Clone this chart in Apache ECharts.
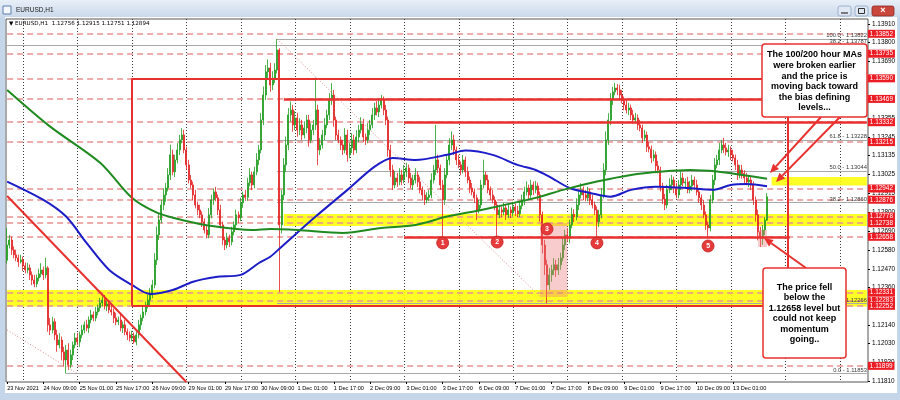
<!DOCTYPE html>
<html><head><meta charset="utf-8">
<script src="https://cdn.jsdelivr.net/npm/echarts@6/dist/echarts.min.js"></script>
<style>html,body{margin:0;padding:0;background:#fff}#c{width:900px;height:400px}</style>
</head><body><div id="c"></div>
<script>
// ---------------- DATA ----------------
const symbolName = 'EURUSD,H1';
const firstOpen = 1.12520;
const closes = [
1.12610,1.12639,1.12581,1.12552,1.12534,1.12511,1.12522,1.12487,1.12463,1.12475,
1.12434,1.12404,1.12381,1.12416,1.12440,1.12463,1.12434,1.12475,1.12140,1.12110,
1.12158,1.12081,1.12022,1.12051,1.11981,1.11934,1.11992,1.11905,1.11963,1.12022,
1.12063,1.12040,1.12081,1.12110,1.12140,1.12122,1.12169,1.12199,1.12181,1.12216,
1.12240,1.12269,1.12286,1.12251,1.12263,1.12228,1.12216,1.12181,1.12158,1.12169,
1.12122,1.12140,1.12099,1.12081,1.12063,1.12075,1.12040,1.12081,1.12140,1.12181,
1.12216,1.12257,1.12286,1.12316,1.12375,1.12522,1.12669,1.12757,1.12845,1.12904,
1.12945,1.13022,1.13140,1.13040,1.13110,1.13169,1.13228,1.13257,1.13169,1.13081,
1.12992,1.12963,1.12904,1.12845,1.12816,1.12787,1.12746,1.12698,1.12669,1.12787,
1.12875,1.12922,1.12887,1.12816,1.12728,1.12639,1.12610,1.12651,1.12628,1.12687,
1.12728,1.12787,1.12770,1.12858,1.12904,1.12890,1.12975,1.13022,1.12963,1.13040,
1.13110,1.13169,1.13345,1.13492,1.13628,1.13651,1.13551,1.13592,1.13639,1.13757,
1.12728,1.12904,1.13081,1.13198,1.13375,1.13404,1.13316,1.13357,1.13286,1.13316,
1.13257,1.13298,1.13345,1.13228,1.13286,1.13316,1.13404,1.13169,1.13198,1.13257,
1.13316,1.13375,1.13463,1.13492,1.13345,1.13257,1.13228,1.13198,1.13169,1.13257,
1.13140,1.13181,1.13228,1.13169,1.13245,1.13286,1.13322,1.13245,1.13228,1.13286,
1.13316,1.13375,1.13416,1.13392,1.13433,1.13463,1.13404,1.13345,1.13169,1.13051,
1.12963,1.13004,1.12981,1.13022,1.12992,1.13040,1.13063,1.13004,1.12963,1.12992,
1.13022,1.12981,1.12934,1.12904,1.12875,1.12890,1.12904,1.12992,1.13051,1.13110,
1.13063,1.12963,1.12875,1.13022,1.13110,1.13198,1.13228,1.13169,1.13110,1.13081,
1.13051,1.13110,1.13040,1.12992,1.12945,1.12922,1.12887,1.12816,1.12845,1.12963,
1.13022,1.12992,1.12934,1.12904,1.12875,1.12845,1.12787,1.12816,1.12804,1.12828,
1.12787,1.12816,1.12798,1.12834,1.12810,1.12793,1.12840,1.12875,1.12922,1.12945,
1.12904,1.12963,1.12934,1.12957,1.12904,1.12787,1.12610,1.12493,1.12375,1.12434,
1.12463,1.12493,1.12463,1.12493,1.12534,1.12610,1.12669,1.12650,1.12728,1.12790,
1.12775,1.12845,1.12904,1.12934,1.12904,1.12887,1.12922,1.12875,1.12845,1.12816,
1.12746,1.12787,1.12904,1.13051,1.13228,1.13345,1.13463,1.13510,1.13533,1.13522,
1.13492,1.13463,1.13433,1.13404,1.13416,1.13375,1.13345,1.13357,1.13316,1.13298,
1.13240,1.13257,1.13187,1.13175,1.13122,1.13140,1.13075,1.13051,1.12955,1.12880,
1.12845,1.12934,1.12963,1.12992,1.12945,1.12904,1.12963,1.13004,1.12975,1.12981,
1.12934,1.12957,1.12992,1.12963,1.12922,1.12887,1.12845,1.12787,1.12728,1.12710,
1.12875,1.12992,1.13081,1.13110,1.13169,1.13198,1.13181,1.13157,1.13169,1.13140,
1.13122,1.13081,1.13022,1.13051,1.13030,1.13004,1.12981,1.12992,1.12963,1.12875,
1.12787,1.12687,1.12651,1.12698,1.12756,1.12894
];
const upperWickPips = [
10,3,2,2,3,2,3,2,2,3,
2,2,3,2,3,4,2,6,1,4,
3,2,3,4,2,3,3,4,3,2,
3,3,2,3,2,3,2,3,2,3,
2,3,2,3,2,2,3,2,3,2,
3,2,3,2,2,3,2,2,3,2,
3,2,3,4,3,4,5,4,3,4,
3,4,6,3,3,4,3,4,3,2,
3,3,2,3,2,3,2,2,3,4,
3,2,3,2,3,2,2,3,2,3,
2,3,2,3,2,3,3,4,2,3,
4,3,4,5,4,5,3,4,4,6.5,
1,3,4,5,4,5,3,4,3,4,
3,4,3,3,4,3,19,3,4,3,
4,3,4,7,3,2,3,2,3,4,
3,3,4,3,4,3,4,3,2,4,
3,4,3,4,3,3,2,3,2,3,
3,4,3,4,3,4,3,2,3,3,
4,2,3,2,3,3,3,4,3,20.6,
3,2,3,4,3,4,5,3,2,3,
2,3,2,3,2,3,2,2,3,3,
9,2,3,2,3,2,2,3,2,3,
2,3,2,3,2,3,3,3,3,4,
2,3,2,3,2,2,2,3,3,4,
3,4,3,4,3,4,3,4,3,4,
3,4,3,4,2,3,3,2,3,2,
2,3,4,4,5,4,4,3,3,2.4,
3,3,2,3,3,2,3,3,2,3,
2,3,2,3,2,3,2,3,2,2,
3,3,4,3,2,3,3,4,3,2,
3,3,3,2,3,2,2,3,2,2,
3,3,4,3,4,3,4.2,3,3,2,
3,2,3,3,3,2,3,3,2,2,
2,3,3,3,2,2.1
];
const lowerWickPips = [
2,2,3,2,2,3,1,3,2,2,
3,3,2,2,2,2,3,2,4,3,
2,3,4,2,5,4,8,3,2,3,
2,2,3,2,2,2,3,2,2,2,
2,2,2,2,3,2,2,3,2,2,
2,3,2,3,2,2,1,2,2,3,
2,2,2,3,2,2,3,3,2,3,
4,2,3,2,3,2,3,2,2,3,
2,2,3,2,3,2,3,2,2,2,
2,3,2,3,2,3,3,2,3,2,
2,2,3,2,3,2,2,2,3,2,
2,3,2,3,3,4,4,3,3,2,
39.4,5,3,4,3,4,4,3,4,3,
3,2,3,4,2,3,3,9,3,2,
3,2,3,3,4,3,2,3,3,2,
4,2,3,3,2,3,2,3,3,2,
3,2,3,2,3,2,3,3,4,4,
3,2,3,2,3,2,3,3,2,3,
2,3,2,3,3,2,2,2,2,3,
3,3,22.4,3,2,3,3,3,3,2,
3,2,3,2,3,2,3,6,2,2,
2,3,2,3,2,3,12.4,2,3,2,
3,2,3,2,3,2,2,2,3,2,
3,2,3,2,3,4,5,6,10.9,3,
4,3,4,3,3,2,3,2,3,2,
3,2,3,2,3,2,2,3,2,3,
8.9,3,2,2,3,3,3,3,2,3,
3,2,3,2,3,3,2,2,3,2,
3,2,3,2,3,2,3,2,3,3,
3,2,2,3,3,2,2,3,2,3,
2,2,3,3,2,3,3,2,3,5.3,
2,2,3,2,3,2,3,2,3,3,
2,3,3,2,3,3,2,3,3,3,
4,5,5.3,4,3,0.5
];
// moving averages read at sample bars: [bar, value]
const ma100Points = [[0,1.12983],[16,1.12875],[26,1.12777],[35,1.12622],[45,1.12463],[55,1.12375],[63,1.12322],[73,1.12345],[82,1.12394],[92,1.12422],[103,1.12434],[111,1.12504],[116,1.12541],[121,1.12600],[136,1.12777],[150,1.12934],[162,1.13071],[170,1.13122],[180,1.13110],[194,1.13140],[202,1.13165],[214,1.13140],[225,1.13081],[233,1.13051],[239,1.13012],[248,1.12945],[257,1.12916],[266,1.12894],[275,1.12934],[286,1.12953],[300,1.12945],[311,1.12934],[319,1.12963],[326,1.12969],[335,1.12955]];
const ma200Points = [[0,1.13522],[19,1.13306],[41,1.13093],[55,1.12887],[66,1.12800],[77,1.12757],[92,1.12718],[108,1.12698],[116,1.12704],[128,1.12698],[148,1.12681],[165,1.12710],[180,1.12728],[194,1.12777],[209,1.12816],[233,1.12887],[245,1.12934],[260,1.12983],[275,1.13022],[289,1.13042],[301,1.13051],[313,1.13042],[324,1.13022],[335,1.12999]];
const timeLabels = ['23 Nov 2021','24 Nov 09:00','25 Nov 01:00','25 Nov 17:00','26 Nov 09:00','29 Nov 01:00','29 Nov 17:00','30 Nov 09:00','1 Dec 01:00','1 Dec 17:00','2 Dec 09:00','3 Dec 01:00','3 Dec 17:00','6 Dec 09:00','7 Dec 01:00','7 Dec 17:00','8 Dec 09:00','9 Dec 01:00','9 Dec 17:00','10 Dec 09:00','13 Dec 01:00'];
const priceTicks = [1.11810,1.11920,1.12030,1.12140,1.12250,1.12360,1.12470,1.12580,1.12690,1.12800,1.12915,1.13025,1.13135,1.13245,1.13355,1.13465,1.13580,1.13690,1.13800,1.13910];
const levelLines = [1.13852,1.13735,1.13590,1.13469,1.13332,1.13215,1.12942,1.12876,1.12778,1.12738,1.12658,1.12331,1.12283,1.12252,1.11899];
const currentPrice = 1.12894;
const fibLines = [
  {value:1.13822, text:'100.0 - 1.13822', from:119},
  {value:1.13787, text:'38.2 - 1.13787', from:0},
  {value:1.13228, text:'61.8 - 1.13228', from:119},
  {value:1.13044, text:'50.0 - 1.13044', from:119},
  {value:1.12860, text:'38.2 - 1.12860', from:119},
  {value:1.12266, text:'0.0 - 1.12266', from:119},
  {value:1.11853, text:'0.0 - 1.11853', from:26}
];
const maLabels = [
  {value:1.12999, text:'H1 MA:200:0:0: 1.12999', color:'#2f8f2f'},
  {value:1.12955, text:'H1 MA:100:0:0: 1.12955', color:'#3a3ad0'}
];
const redLevelSegments = [[122,379,1.13469],[175,379,1.13332],[175,345,1.12658]];
const boxRange = {from:55, to:344, top:1.13590, bottom:1.12252};
const redTrend = [[0,1.12898],[79,1.11804]];
const fibDiagonals = [[[119,1.13822],[238,1.12266]],[[0,1.12110],[31,1.11853]]];
const yellowBands = [[122,379,1.12792,1.12721],[0,379,1.12345,1.12248],[337,379,1.13010,1.12960]];
const pinkBoxes = [[235,247,1.12739,1.12304],[331,335,1.12698,1.12598]];
const markerPoints = [[192,1.12622,'1'],[216,1.12627,'2'],[238,1.12704,'3'],[260,1.12622,'4'],[309,1.12604,'5']];
const noteTop = ['The 100/200 hour MAs','were broken earlier','and the price is','moving back toward','the bias defining','levels...'];
const noteBottom = ['The price fell','below the','1.12658 level but','could not keep','momentum','going..'];

// ---------------- BUILD ----------------
const N_SLOTS = 380;
const Y_MIN = 1.11804, Y_MAX = 1.13939;
const FIRST_DAY_BAR = 7, BARS_PER_DAY = 24, BARS_PER_LABEL = 16;
const cats = Array.from({length:N_SLOTS}, (_, i) => String(i));
const candles = closes.map((c, i) => {
  const o = i === 0 ? firstOpen : closes[i-1];
  const h = Math.max(o, c) + upperWickPips[i] / 10000;
  const l = Math.min(o, c) - lowerWickPips[i] / 10000;
  return [o, c, l, h];
});
const last = candles[candles.length-1];
const headerText = '\u25BC ' + symbolName + '  ' + [last[0], last[3], last[2], last[1]].map(v => v.toFixed(5)).join(' ');

const RED = '#e8312f';
const FONT = 'Liberation Sans';

function seg(a, b, extra) { return [Object.assign({coord:a}, extra), Object.assign({coord:b}, extra)]; }
const tagLabel = (text, bg) => ({show:true, position:'end', distance:1, formatter:text, color:'#fff', backgroundColor:bg, fontSize:6.4, fontFamily:FONT, padding:[1.5,2,0.5,2]});

const lowerMarkLines = [];
fibLines.forEach(f => lowerMarkLines.push(seg([f.from, f.value], [N_SLOTS-1, f.value], {
  lineStyle:{type:'solid', color:'#a9a9a9', width:1},
  label:{show:true, position:'insideEndTop', formatter:f.text, color:'#3a3a3a', fontSize:5.8, fontFamily:FONT, distance:[0,0.5]}
})));
levelLines.forEach(v => lowerMarkLines.push(seg([0, v], [N_SLOTS-1, v], {
  lineStyle:{type:[6,4], color:'#e99393', width:1.5},
  label:tagLabel(v.toFixed(5), '#ec1c24')
})));
maLabels.forEach(m => lowerMarkLines.push(seg([337, m.value], [N_SLOTS-1, m.value], {
  lineStyle:{opacity:0},
  label:{show:true, position:'insideEndTop', formatter:m.text, color:m.color, fontSize:5.8, fontFamily:FONT, distance:[0,0.5]}
})));

const upperMarkLines = [];
const redStyle = {lineStyle:{type:'solid', color:RED, width:2}, label:{show:false}};
redLevelSegments.forEach(s => upperMarkLines.push(seg([s[0], s[2]], [s[1], s[2]], {lineStyle:{type:'solid', color:RED, width:2.5}, label:{show:false}})));
upperMarkLines.push(seg([boxRange.from, boxRange.top], [boxRange.to, boxRange.top], redStyle));
upperMarkLines.push(seg([boxRange.from, boxRange.bottom], [boxRange.to, boxRange.bottom], redStyle));
upperMarkLines.push(seg([boxRange.from, boxRange.top], [boxRange.from, boxRange.bottom], redStyle));
upperMarkLines.push(seg([boxRange.to, boxRange.top], [boxRange.to, boxRange.bottom], redStyle));
upperMarkLines.push(seg(redTrend[0], redTrend[1], {lineStyle:{type:'solid', color:RED, width:2}, label:{show:false}}));
fibDiagonals.forEach(d => upperMarkLines.push(seg(d[0], d[1], {lineStyle:{type:[1,2], color:'#dc8c8c', width:1}, label:{show:false}})));
upperMarkLines.push(seg([0, currentPrice], [N_SLOTS-1, currentPrice], {lineStyle:{opacity:0}, label:tagLabel(currentPrice.toFixed(5), '#000')}));

const yellowAreas = yellowBands.map(b => [{coord:[b[0], b[2]], itemStyle:{color:'rgba(255,255,0,0.85)'}}, {coord:[b[1], b[3]]}]);
const pinkAreas = pinkBoxes.map(b => [{coord:[b[0], b[2]], itemStyle:{color:'rgba(236,120,120,0.38)'}}, {coord:[b[1], b[3]]}]);

// graphics (window chrome & callouts)
function arrow(x1, y1, x2, y2) {
  const a = Math.atan2(y2 - y1, x2 - x1), L = 9, W = 4;
  const bx = x2 - L * Math.cos(a), by = y2 - L * Math.sin(a);
  const px = -Math.sin(a) * W, py = Math.cos(a) * W;
  return [
    {type:'line', z:100, shape:{x1:x1, y1:y1, x2:bx, y2:by}, style:{stroke:RED, lineWidth:2}},
    {type:'polygon', z:100, shape:{points:[[x2,y2],[bx+px,by+py],[bx-px,by-py]]}, style:{fill:RED}}
  ];
}
const chromeFill = '#c6d6ea';
const graphics = [
  {type:'rect', z:100, shape:{x:0, y:0, width:900, height:17}, style:{fill:new echarts.graphic.LinearGradient(0,0,0,1,[{offset:0,color:'#e8eff8'},{offset:1,color:'#cbd9eb'}])}},
  {type:'rect', z:100, shape:{x:0, y:17, width:5, height:383}, style:{fill:chromeFill}},
  {type:'rect', z:100, shape:{x:897, y:17, width:3, height:383}, style:{fill:chromeFill}},
  {type:'rect', z:100, shape:{x:0, y:393, width:900, height:7}, style:{fill:chromeFill}},
  {type:'rect', z:101, shape:{x:3, y:6, width:8, height:8}, style:{fill:'#f4f8fc', stroke:'#5a7fb0', lineWidth:1}},
  {type:'text', z:101, style:{x:16, y:10, text:symbolName, fontSize:6.5, fontFamily:FONT, fill:'#1a1a1a', verticalAlign:'middle'}},
  {type:'rect', z:101, shape:{x:838, y:6, width:13, height:10, r:2}, style:{fill:'#dfe8f3', stroke:'#8ea4c2', lineWidth:0.8}},
  {type:'rect', z:101, shape:{x:855, y:6, width:13, height:10, r:2}, style:{fill:'#dfe8f3', stroke:'#8ea4c2', lineWidth:0.8}},
  {type:'rect', z:101, shape:{x:872, y:6, width:22, height:10, r:2}, style:{fill:'#c9463d', stroke:'#8d2a22', lineWidth:0.8}},
  {type:'line', z:102, shape:{x1:841, y1:13, x2:848, y2:13}, style:{stroke:'#333', lineWidth:1.2}},
  {type:'rect', z:102, shape:{x:858.5, y:8.5, width:6, height:5}, style:{fill:'none', stroke:'#333', lineWidth:1}},
  {type:'text', z:102, style:{x:883, y:11, text:'\u00D7', fontSize:9, fontWeight:'bold', fontFamily:FONT, fill:'#fff', align:'center', verticalAlign:'middle'}},
  {type:'text', z:101, style:{x:9, y:24, text:headerText, fontSize:5.6, fontFamily:'DejaVu Sans', fill:'#000', verticalAlign:'middle'}},
  ...arrow(821, 117, 770, 173),
  ...arrow(840, 117, 776, 182),
  ...arrow(806, 268, 764, 238),
  {type:'rect', z:103, shape:{x:762, y:44, width:105, height:73, r:3}, style:{fill:'#fff', stroke:RED, lineWidth:1.5}},
  {type:'text', z:104, style:{x:814.5, y:49.7, text:noteTop.join('\n'), align:'center', verticalAlign:'top', fontSize:9, fontWeight:'bold', fontFamily:FONT, lineHeight:10.6, fill:'#000'}},
  {type:'rect', z:103, shape:{x:763, y:268, width:83, height:90, r:3}, style:{fill:'#fff', stroke:RED, lineWidth:1.5}},
  {type:'text', z:104, style:{x:804.5, y:281.8, text:noteBottom.join('\n'), align:'center', verticalAlign:'top', fontSize:9, fontWeight:'bold', fontFamily:FONT, lineHeight:10.5, fill:'#000'}}
];

const isLabelBar = (i) => i % BARS_PER_LABEL === 0 && i / BARS_PER_LABEL < timeLabels.length;
const isDayStart = (i) => i >= FIRST_DAY_BAR && (i - FIRST_DAY_BAR) % BARS_PER_DAY === 0;
const chart = echarts.init(document.getElementById('c'), null, {renderer:'canvas'});
chart.setOption({
  animation:false,
  backgroundColor:'#ffffff',
  textStyle:{fontFamily:FONT},
  grid:{left:6, right:32, top:19, bottom:18, show:true, borderColor:'#555', borderWidth:1, backgroundColor:'transparent'},
  xAxis:{type:'category', data:cats, boundaryGap:true,
    axisLine:{show:false},
    axisTick:{show:true, alignWithLabel:true, length:2, interval:isLabelBar, lineStyle:{color:'#000'}},
    axisLabel:{show:true, interval:isLabelBar, formatter:(v, i) => timeLabels[i / BARS_PER_LABEL] || '', align:'left', fontSize:5.6, color:'#000', margin:3, fontFamily:FONT},
    splitLine:{show:false}},
  yAxis:{type:'value', position:'right', min:Y_MIN, max:Y_MAX, scale:true,
    axisLine:{show:false},
    axisTick:{show:true, customValues:priceTicks, length:2, lineStyle:{color:'#000'}},
    axisLabel:{show:true, customValues:priceTicks, formatter:(v) => v.toFixed(5), fontSize:6.4, color:'#000', margin:4, fontFamily:FONT},
    splitLine:{show:false}},
  series:[
    {type:'candlestick', name:'EURUSD', z:2, data:candles, barWidth:1.5,
      itemStyle:{color:'#1f9d1f', color0:'#e32222', borderColor:'#1f9d1f', borderColor0:'#e32222', borderWidth:0.8},
      markLine:{z:5, silent:true, symbol:'none', precision:5, animation:false, data:upperMarkLines}},
    {type:'line', name:'MA100', z:3, data:ma100Points, smooth:0.3, showSymbol:false, lineStyle:{color:'#1c1cc8', width:2}, silent:true,
      markLine:{z:1.5, silent:true, symbol:'none', precision:5, animation:false, data:lowerMarkLines}},
    {type:'line', name:'MA200', z:3, data:ma200Points, smooth:0.3, showSymbol:false, lineStyle:{color:'#1f8a1f', width:2}, silent:true,
      markArea:{z:1, silent:true, animation:false, data:yellowAreas}},
    {type:'scatter', name:'marks', z:6, silent:true,
      data:markerPoints.map(m => ({value:[m[0], m[1]], label:{formatter:m[2]}})),
      symbolSize:12, itemStyle:{color:'#e53b3b', borderColor:'#c21f1f', borderWidth:0.8, opacity:1},
      label:{show:true, position:'inside', color:'#fff', fontSize:7, fontWeight:'bold', fontFamily:FONT},
      markArea:{z:4, silent:true, animation:false, data:pinkAreas}}
  ],
  graphic:{elements:graphics}
});

// day separators: dotted vertical lines placed through the x axis scale
const daySeparators = [];
for (let i = FIRST_DAY_BAR; i < N_SLOTS; i += BARS_PER_DAY) daySeparators.push(i);
const yTop = chart.convertToPixel({yAxisIndex:0}, Y_MAX);
const yBot = chart.convertToPixel({yAxisIndex:0}, Y_MIN);
const sepElements = daySeparators.map(i => {
  const x = Math.round(chart.convertToPixel({xAxisIndex:0}, i)) + 0.5;
  return {type:'line', z:1, silent:true, shape:{x1:x, y1:yTop, x2:x, y2:yBot}, style:{stroke:'#3c3c3c', lineWidth:1, lineDash:[1,2]}};
});
chart.setOption({graphic:{elements:graphics.concat(sepElements)}});
</script>
</body></html>
